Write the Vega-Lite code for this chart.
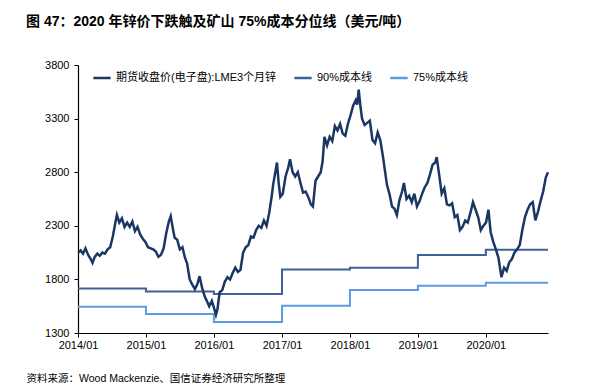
{
  "$schema": "https://vega.github.io/schema/vega-lite/v6.json",
  "width": 470,
  "height": 268,
  "autosize": "none",
  "padding": {"left": 78, "top": 65, "right": 41, "bottom": 53},
  "background": "white",
  "config": {
    "view": {"stroke": null},
    "font": "Liberation Sans, Noto Sans CJK SC"
  },
  "title": {
    "text": "图 47：2020 年锌价下跌触及矿山 75%成本分位线（美元/吨）",
    "anchor": "start",
    "frame": "group",
    "dx": -52,
    "offset": 30,
    "fontSize": 14,
    "fontWeight": "bold",
    "font": "Liberation Sans, Noto Sans CJK SC",
    "color": "#000000"
  },
  "datasets": {
    "price": [
      {"date": "2014-01-02", "value": 2050}, {"date": "2014-01-15", "value": 2070}, {"date": "2014-01-28", "value": 2040},
      {"date": "2014-02-10", "value": 2090}, {"date": "2014-02-24", "value": 2030}, {"date": "2014-03-10", "value": 1990},
      {"date": "2014-03-20", "value": 1955}, {"date": "2014-04-01", "value": 2010}, {"date": "2014-04-15", "value": 2040},
      {"date": "2014-04-28", "value": 2020}, {"date": "2014-05-12", "value": 2050}, {"date": "2014-05-26", "value": 2040},
      {"date": "2014-06-09", "value": 2080}, {"date": "2014-06-23", "value": 2100}, {"date": "2014-07-07", "value": 2200},
      {"date": "2014-07-21", "value": 2330}, {"date": "2014-07-29", "value": 2400}, {"date": "2014-08-11", "value": 2330},
      {"date": "2014-08-25", "value": 2370}, {"date": "2014-09-08", "value": 2290}, {"date": "2014-09-22", "value": 2330},
      {"date": "2014-10-06", "value": 2290}, {"date": "2014-10-20", "value": 2340}, {"date": "2014-11-03", "value": 2250},
      {"date": "2014-11-17", "value": 2290}, {"date": "2014-12-01", "value": 2220}, {"date": "2014-12-15", "value": 2180},
      {"date": "2014-12-29", "value": 2150}, {"date": "2015-01-12", "value": 2100}, {"date": "2015-01-26", "value": 2090},
      {"date": "2015-02-09", "value": 2080}, {"date": "2015-02-23", "value": 2060}, {"date": "2015-03-09", "value": 2010},
      {"date": "2015-03-23", "value": 2030}, {"date": "2015-04-06", "value": 2090}, {"date": "2015-04-20", "value": 2230},
      {"date": "2015-05-04", "value": 2340}, {"date": "2015-05-14", "value": 2390}, {"date": "2015-05-25", "value": 2280},
      {"date": "2015-06-04", "value": 2190}, {"date": "2015-06-18", "value": 2170}, {"date": "2015-07-02", "value": 2080},
      {"date": "2015-07-16", "value": 2100}, {"date": "2015-07-30", "value": 2000}, {"date": "2015-08-10", "value": 1950},
      {"date": "2015-08-24", "value": 1800}, {"date": "2015-09-04", "value": 1760}, {"date": "2015-09-21", "value": 1710},
      {"date": "2015-10-05", "value": 1760}, {"date": "2015-10-16", "value": 1830}, {"date": "2015-10-30", "value": 1720},
      {"date": "2015-11-13", "value": 1640}, {"date": "2015-11-24", "value": 1600}, {"date": "2015-12-07", "value": 1550},
      {"date": "2015-12-21", "value": 1600}, {"date": "2016-01-04", "value": 1520}, {"date": "2016-01-12", "value": 1470},
      {"date": "2016-01-20", "value": 1520}, {"date": "2016-02-01", "value": 1680}, {"date": "2016-02-15", "value": 1700},
      {"date": "2016-02-29", "value": 1780}, {"date": "2016-03-14", "value": 1820}, {"date": "2016-03-28", "value": 1800},
      {"date": "2016-04-11", "value": 1860}, {"date": "2016-04-25", "value": 1910}, {"date": "2016-05-09", "value": 1870},
      {"date": "2016-05-23", "value": 1890}, {"date": "2016-06-06", "value": 2050}, {"date": "2016-06-20", "value": 2100},
      {"date": "2016-07-04", "value": 2120}, {"date": "2016-07-18", "value": 2200}, {"date": "2016-08-01", "value": 2190},
      {"date": "2016-08-15", "value": 2260}, {"date": "2016-08-29", "value": 2300}, {"date": "2016-09-12", "value": 2280},
      {"date": "2016-09-26", "value": 2350}, {"date": "2016-10-10", "value": 2300}, {"date": "2016-10-24", "value": 2420},
      {"date": "2016-11-07", "value": 2580}, {"date": "2016-11-14", "value": 2680}, {"date": "2016-11-28", "value": 2820},
      {"date": "2016-12-05", "value": 2890}, {"date": "2016-12-14", "value": 2700}, {"date": "2016-12-23", "value": 2570},
      {"date": "2017-01-05", "value": 2600}, {"date": "2017-01-20", "value": 2760}, {"date": "2017-02-03", "value": 2840},
      {"date": "2017-02-13", "value": 2920}, {"date": "2017-02-27", "value": 2800}, {"date": "2017-03-13", "value": 2760},
      {"date": "2017-03-27", "value": 2800}, {"date": "2017-04-10", "value": 2700}, {"date": "2017-04-24", "value": 2610},
      {"date": "2017-05-08", "value": 2620}, {"date": "2017-05-22", "value": 2570}, {"date": "2017-06-05", "value": 2500},
      {"date": "2017-06-16", "value": 2480}, {"date": "2017-06-30", "value": 2720}, {"date": "2017-07-14", "value": 2760},
      {"date": "2017-07-28", "value": 2800}, {"date": "2017-08-07", "value": 2900}, {"date": "2017-08-17", "value": 3130},
      {"date": "2017-08-31", "value": 3050}, {"date": "2017-09-14", "value": 3130}, {"date": "2017-09-28", "value": 3090},
      {"date": "2017-10-12", "value": 3230}, {"date": "2017-10-26", "value": 3190}, {"date": "2017-11-09", "value": 3250},
      {"date": "2017-11-23", "value": 3160}, {"date": "2017-12-07", "value": 3140}, {"date": "2017-12-21", "value": 3250},
      {"date": "2018-01-04", "value": 3330}, {"date": "2018-01-18", "value": 3420}, {"date": "2018-02-01", "value": 3470},
      {"date": "2018-02-09", "value": 3430}, {"date": "2018-02-17", "value": 3570}, {"date": "2018-02-26", "value": 3420},
      {"date": "2018-03-07", "value": 3300}, {"date": "2018-03-21", "value": 3240}, {"date": "2018-04-04", "value": 3260},
      {"date": "2018-04-18", "value": 3280}, {"date": "2018-05-02", "value": 3100}, {"date": "2018-05-16", "value": 3070},
      {"date": "2018-05-30", "value": 3170}, {"date": "2018-06-13", "value": 3100}, {"date": "2018-06-27", "value": 2950},
      {"date": "2018-07-09", "value": 2800}, {"date": "2018-07-19", "value": 2680}, {"date": "2018-08-01", "value": 2600},
      {"date": "2018-08-15", "value": 2480}, {"date": "2018-08-28", "value": 2460}, {"date": "2018-09-10", "value": 2400},
      {"date": "2018-09-24", "value": 2540}, {"date": "2018-10-08", "value": 2620}, {"date": "2018-10-18", "value": 2700},
      {"date": "2018-11-01", "value": 2550}, {"date": "2018-11-15", "value": 2580}, {"date": "2018-11-29", "value": 2520},
      {"date": "2018-12-13", "value": 2600}, {"date": "2018-12-27", "value": 2480}, {"date": "2019-01-10", "value": 2530},
      {"date": "2019-01-24", "value": 2600}, {"date": "2019-02-07", "value": 2660}, {"date": "2019-02-21", "value": 2700},
      {"date": "2019-03-07", "value": 2780}, {"date": "2019-03-21", "value": 2870}, {"date": "2019-04-04", "value": 2890},
      {"date": "2019-04-12", "value": 2940}, {"date": "2019-04-25", "value": 2780}, {"date": "2019-05-09", "value": 2600},
      {"date": "2019-05-23", "value": 2650}, {"date": "2019-06-06", "value": 2500}, {"date": "2019-06-20", "value": 2490},
      {"date": "2019-07-04", "value": 2510}, {"date": "2019-07-18", "value": 2380}, {"date": "2019-08-01", "value": 2400},
      {"date": "2019-08-15", "value": 2260}, {"date": "2019-08-29", "value": 2290}, {"date": "2019-09-12", "value": 2350},
      {"date": "2019-09-26", "value": 2330}, {"date": "2019-10-10", "value": 2420}, {"date": "2019-10-24", "value": 2520},
      {"date": "2019-11-07", "value": 2450}, {"date": "2019-11-21", "value": 2380}, {"date": "2019-12-05", "value": 2260},
      {"date": "2019-12-19", "value": 2300}, {"date": "2020-01-02", "value": 2330}, {"date": "2020-01-15", "value": 2450},
      {"date": "2020-01-27", "value": 2240}, {"date": "2020-02-10", "value": 2150}, {"date": "2020-02-24", "value": 2080},
      {"date": "2020-03-09", "value": 2000}, {"date": "2020-03-25", "value": 1820}, {"date": "2020-04-08", "value": 1910},
      {"date": "2020-04-22", "value": 1880}, {"date": "2020-05-06", "value": 1960}, {"date": "2020-05-20", "value": 1990},
      {"date": "2020-06-03", "value": 2050}, {"date": "2020-06-17", "value": 2080}, {"date": "2020-07-01", "value": 2120},
      {"date": "2020-07-15", "value": 2260}, {"date": "2020-07-29", "value": 2380}, {"date": "2020-08-12", "value": 2450},
      {"date": "2020-08-26", "value": 2500}, {"date": "2020-09-09", "value": 2520}, {"date": "2020-09-23", "value": 2350},
      {"date": "2020-10-07", "value": 2430}, {"date": "2020-10-21", "value": 2530}, {"date": "2020-11-04", "value": 2620},
      {"date": "2020-11-18", "value": 2750}, {"date": "2020-11-30", "value": 2800}
    ],
    "cost": [
      {"date": "2014-01-01", "series": "90%成本线", "value": 1715},
      {"date": "2015-01-01", "series": "90%成本线", "value": 1688},
      {"date": "2016-01-01", "series": "90%成本线", "value": 1663},
      {"date": "2017-01-01", "series": "90%成本线", "value": 1892},
      {"date": "2018-01-01", "series": "90%成本线", "value": 1909},
      {"date": "2019-01-01", "series": "90%成本线", "value": 2028},
      {"date": "2020-01-01", "series": "90%成本线", "value": 2076},
      {"date": "2020-11-30", "series": "90%成本线", "value": 2076},
      {"date": "2014-01-01", "series": "75%成本线", "value": 1545},
      {"date": "2015-01-01", "series": "75%成本线", "value": 1478},
      {"date": "2016-01-01", "series": "75%成本线", "value": 1403},
      {"date": "2017-01-01", "series": "75%成本线", "value": 1555},
      {"date": "2018-01-01", "series": "75%成本线", "value": 1701},
      {"date": "2019-01-01", "series": "75%成本线", "value": 1741},
      {"date": "2020-01-01", "series": "75%成本线", "value": 1769},
      {"date": "2020-11-30", "series": "75%成本线", "value": 1769}
    ]
  },
  "encoding": {
    "x": {
      "field": "date",
      "type": "temporal",
      "scale": {"type": "utc", "domain": ["2014-01-01", "2020-11-30"]},
      "axis": {
        "values": ["2014-01-01", "2015-01-01", "2016-01-01", "2017-01-01", "2018-01-01", "2019-01-01", "2020-01-01"],
        "labelExpr": "utcFormat(datum.value, '%Y/%m')",
        "grid": false,
        "domainColor": "#000000",
        "domainWidth": 1.2,
        "tickColor": "#000000",
        "tickSize": 4,
        "labelFontSize": 11,
        "labelColor": "#000000",
        "labelPadding": 2,
        "labelFlush": false,
        "title": "资料来源：Wood Mackenzie、国信证券经济研究所整理",
        "titleAnchor": "start",
        "titleX": -52,
        "titleY": 40,
        "titleFontSize": 10.5,
        "titleFontWeight": "normal",
        "titleColor": "#000000",
        "titleFont": "Liberation Sans, Noto Sans CJK SC"
      }
    },
    "y": {
      "field": "value",
      "type": "quantitative",
      "scale": {"domain": [1300, 3800], "nice": false, "zero": false},
      "axis": {
        "values": [1300, 1800, 2300, 2800, 3300, 3800],
        "format": "d",
        "grid": false,
        "domainColor": "#000000",
        "domainWidth": 1.2,
        "tickColor": "#000000",
        "tickSize": 4,
        "labelFontSize": 11,
        "labelColor": "#000000",
        "labelPadding": 5,
        "title": null
      }
    },
    "color": {
      "field": "series",
      "type": "nominal",
      "scale": {
        "domain": ["期货收盘价(电子盘):LME3个月锌", "90%成本线", "75%成本线"],
        "range": ["#1A3764", "#3D6198", "#5C9BE0"]
      },
      "legend": {
        "orient": "none",
        "legendX": 14,
        "legendY": 3,
        "direction": "horizontal",
        "title": null,
        "symbolType": "stroke",
        "symbolSize": 300,
        "symbolStrokeWidth": 2.5,
        "labelFontSize": 11,
        "labelColor": "#000000",
        "labelFont": "Liberation Sans, Noto Sans CJK SC",
        "columnPadding": 12,
        "labelOffset": 4,
        "labelLimit": 300
      }
    }
  },
  "layer": [
    {
      "data": {"name": "cost"},
      "mark": {"type": "line", "interpolate": "step-after", "strokeWidth": 2},
      "encoding": {}
    },
    {
      "data": {"name": "price"},
      "transform": [{"calculate": "'期货收盘价(电子盘):LME3个月锌'", "as": "series"}],
      "mark": {"type": "line", "strokeWidth": 2.5},
      "encoding": {}
    }
  ]
}
